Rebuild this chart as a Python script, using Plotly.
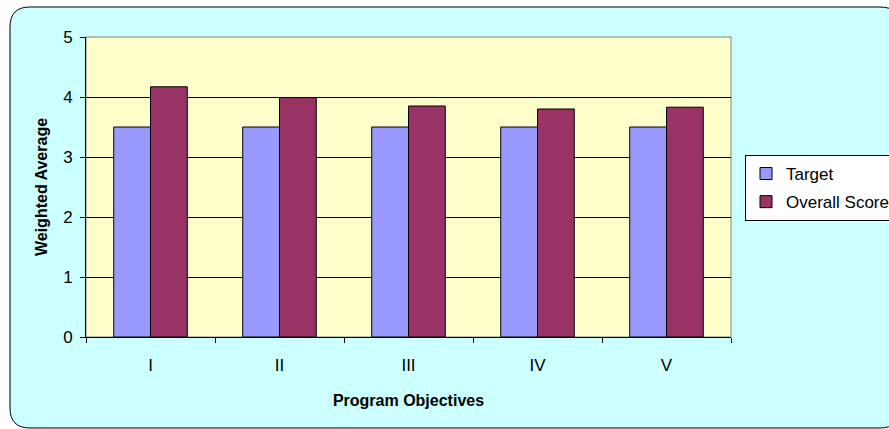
import plotly.graph_objects as go

categories = ["I", "II", "III", "IV", "V"]
target = [3.5, 3.5, 3.5, 3.5, 3.5]
overall = [4.17, 3.99, 3.85, 3.80, 3.83]
y_ticks = [0, 1, 2, 3, 4, 5]

W, H = 889, 429
ML, MR, MT, MB = 86, 158, 37, 92
PW, PH = W - ML - MR, H - MT - MB


def px(x):
    return (x - ML) / PW


def py(y):
    return (H - MB - y) / PH


def rounded_path(x0, y0, x1, y1, r):
    pts = [
        ("M", [(x0 + r, y0)]),
        ("L", [(x1 - r, y0)]),
        ("Q", [(x1, y0), (x1, y0 + r)]),
        ("L", [(x1, y1 - r)]),
        ("Q", [(x1, y1), (x1 - r, y1)]),
        ("L", [(x0 + r, y1)]),
        ("Q", [(x0, y1), (x0, y1 - r)]),
        ("L", [(x0, y0 + r)]),
        ("Q", [(x0, y0), (x0 + r, y0)]),
    ]
    s = ""
    for cmd, ps in pts:
        s += cmd + " " + " ".join(f"{px(a):.5f},{py(b):.5f}" for a, b in ps) + " "
    return s + "Z"


font = "Liberation Sans, Arial, sans-serif"

fig = go.Figure()
fig.add_trace(go.Bar(x=categories, y=target, name="Target", legendgroup="a",
                     marker=dict(color="#9999FF", line=dict(color="#000000", width=1))))
fig.add_trace(go.Bar(x=categories, y=overall, name="Overall Score", legendgroup="b",
                     marker=dict(color="#993366", line=dict(color="#000000", width=1))))

fig.update_layout(
    width=W, height=H,
    margin=dict(l=ML, r=MR, t=MT, b=MB, autoexpand=False),
    paper_bgcolor="#FFFFFF",
    plot_bgcolor="rgba(0,0,0,0)",
    barmode="group", bargap=0.43, bargroupgap=0,
    font=dict(family=font, size=16, color="#000000"),
    showlegend=True,
    legend=dict(x=px(745), y=py(155), xanchor="left", yanchor="top",
                bgcolor="#FFFFFF", bordercolor="#000000", borderwidth=1,
                font=dict(size=17), tracegroupgap=3, itemwidth=30),
    shapes=[
        dict(type="path", xref="paper", yref="paper", layer="below",
             path=rounded_path(10, 7, 900, 428, 20),
             fillcolor="#CCFFFF", line=dict(color="#000000", width=1)),
        dict(type="rect", xref="paper", yref="paper", layer="below",
             x0=0, y0=0, x1=1, y1=1, fillcolor="#FFFFCC",
             line=dict(color="#808080", width=1)),
    ],
    xaxis=dict(
        type="category", tickson="boundaries", ticks="outside", ticklen=5,
        tickcolor="#000000", showline=True, linecolor="#000000", linewidth=1,
        showgrid=False, tickfont=dict(size=17), ticklabelstandoff=13,
        title=dict(text="<b>Program Objectives</b>", font=dict(size=16), standoff=20),
    ),
    yaxis=dict(
        range=[0, 5], tickvals=y_ticks, ticks="outside", ticklen=5,
        tickcolor="#000000", showline=True, linecolor="#000000", linewidth=1,
        showgrid=True, gridcolor="#000000", gridwidth=1, zeroline=False,
        tickfont=dict(size=17), ticklabelstandoff=4,
        title=dict(text="<b>Weighted Average</b>", font=dict(size=16), standoff=11),
    ),
)

fig.write_html("out.html")
